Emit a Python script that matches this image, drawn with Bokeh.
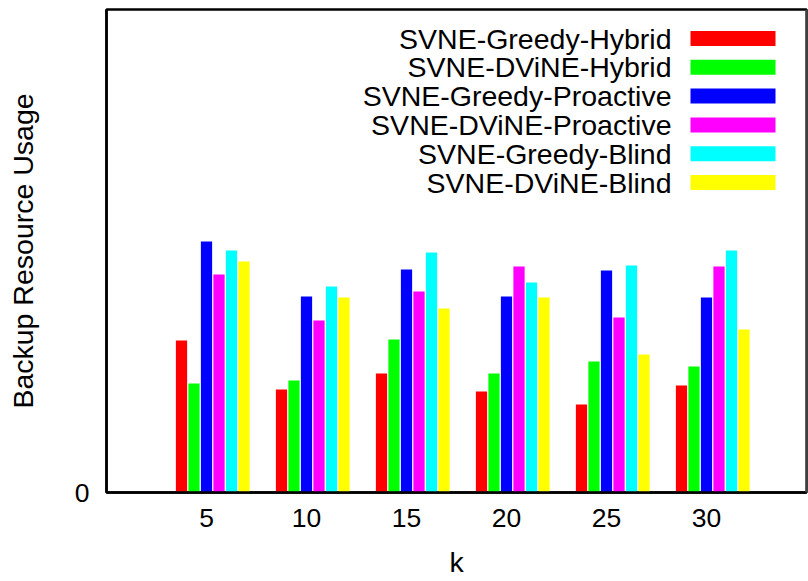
import numpy as np
from bokeh.plotting import figure
from bokeh.models import FixedTicker, Span, Range1d
from bokeh.core.properties import value
from bokeh.embed import file_html
from bokeh.resources import INLINE

# ---- data ----
k_labels = ["5", "10", "15", "20", "25", "30"]
series_names = ["SVNE-Greedy-Hybrid", "SVNE-DViNE-Hybrid",
                "SVNE-Greedy-Proactive", "SVNE-DViNE-Proactive",
                "SVNE-Greedy-Blind", "SVNE-DViNE-Blind"]
greedy_hybrid    = [152, 103, 119, 101, 88, 107]
dvine_hybrid     = [109, 112, 153, 119, 131, 126]
greedy_proactive = [251, 196, 223, 196, 222, 195]
dvine_proactive  = [218, 172, 201, 226, 175, 226]
greedy_blind     = [242, 206, 240, 210, 227, 242]
dvine_blind      = [231, 195, 184, 195, 138, 163]
series = [greedy_hybrid, dvine_hybrid, greedy_proactive,
          dvine_proactive, greedy_blind, dvine_blind]
colors = ["#ff0000", "#00ff00", "#0000ff", "#ff00ff", "#00ffff", "#ffff00"]

FONT = "Liberation Sans"
Y_TOP = 483.0

p = figure(width=808, height=581, output_backend="svg", toolbar_location=None,
           x_range=Range1d(-1, 6), y_range=Range1d(0, Y_TOP),
           min_border_left=106, min_border_right=2, min_border_top=9,
           min_border_bottom=89)
p.grid.visible = False
p.background_fill_color = "white"
p.border_fill_color = "white"
p.outline_line_color = "black"
p.outline_line_width = 2.5

idx = np.arange(len(k_labels))
slot = 0.125
bw = 0.1125
for j, (vals, c) in enumerate(zip(series, colors)):
    p.vbar(x=idx + (j - 2) * slot, top=vals, bottom=0, width=bw,
           fill_color=c, line_color=None)

# axes
xa = p.xaxis[0]
xa.ticker = FixedTicker(ticks=list(idx))
xa.major_label_overrides = {int(i): s for i, s in zip(idx, k_labels)}
ya = p.yaxis[0]
ya.ticker = FixedTicker(ticks=[0])
ya.major_label_overrides = {0: "0"}
for ax in (xa, ya):
    ax.axis_line_color = "black"
    ax.axis_line_width = 2.5
    ax.major_tick_line_color = None
    ax.minor_tick_line_color = None
    ax.major_tick_out = 0
    ax.major_tick_in = 0
    ax.major_label_text_font = FONT
    ax.major_label_text_font_size = "26.5px"
    ax.major_label_text_color = "black"
    ax.axis_label_text_font = FONT
    ax.axis_label_text_font_size = "28.5px"
    ax.axis_label_text_font_style = "normal"
    ax.axis_label_text_color = "black"
xa.axis_label = "k"
ya.axis_label = "Backup Resource Usage"
xa.major_label_standoff = 16
xa.axis_label_standoff = 16
ya.major_label_standoff = 17
ya.axis_label_standoff = 33

# right frame edge drawn grey as in the reference
p.add_layout(Span(location=6, dimension="height", line_color="#808080", line_width=2))

# manual legend (label right-aligned, swatch to its right)
px = 7.0 / 700.0          # data units per pixel in x
py = Y_TOP / 483.0        # data units per pixel in y
leg_text_x = -1 + 565 * px
sw_left = -1 + 584 * px
sw_right = -1 + 669 * px
row0 = Y_TOP - 29 * py
row_step = 28.8 * py
sw_h = 15 * py
rows = row0 - np.arange(len(series_names)) * row_step
p.text(x=[leg_text_x] * len(series_names), y=rows, text=series_names,
       text_align="right", text_baseline="middle",
       text_font=value(FONT), text_font_size="28.5px", text_color="black")
p.quad(left=sw_left, right=sw_right, top=rows + sw_h / 2, bottom=rows - sw_h / 2,
       fill_color=colors, line_color=None)

open("out.html", "w").write(file_html(p, INLINE))
